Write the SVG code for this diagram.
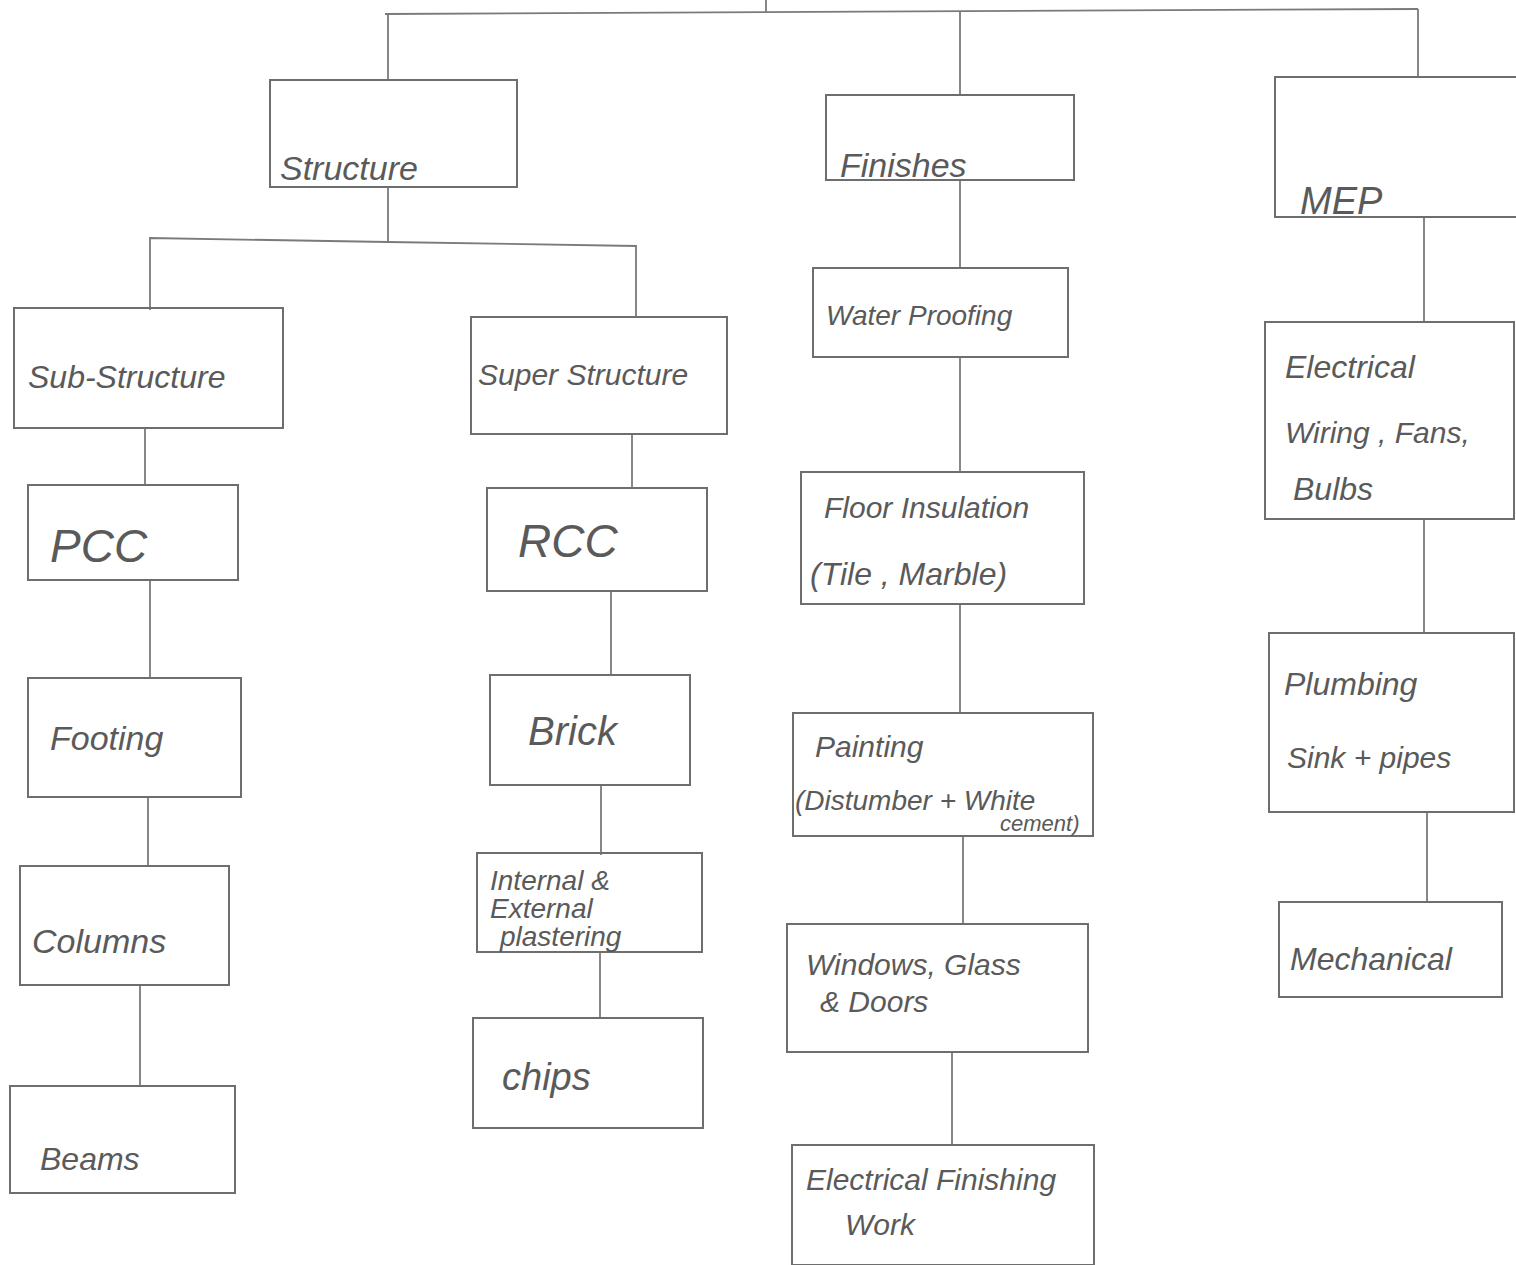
<svg xmlns="http://www.w3.org/2000/svg" width="1516" height="1265" viewBox="0 0 1516 1265">
<style>
.bg{fill:#ffffff}
.box rect{fill:none;stroke:#6e6e6e;stroke-width:2}
.box text{font-family:"Liberation Sans","DejaVu Sans",sans-serif;fill:#5a5a5a;font-style:italic}
#connectors line,#connectors polyline{fill:none;stroke:#7a7a7a;stroke-width:1.8}
</style>
<rect class="bg" x="0" y="0" width="1516" height="1265"/>
<g id="connectors">
<line x1="766" y1="0" x2="766" y2="13"/>
<polyline points="385,14 1418,9"/>
<line x1="388" y1="14" x2="388" y2="80"/>
<line x1="960" y1="12" x2="960" y2="95"/>
<line x1="1418" y1="9" x2="1418" y2="77"/>
<line x1="388" y1="187" x2="388" y2="242"/>
<polyline points="150,310 150,238 388,242 636,246 636,318"/>
<line x1="145" y1="428" x2="145" y2="485"/>
<line x1="150" y1="580" x2="150" y2="678"/>
<line x1="148" y1="797" x2="148" y2="866"/>
<line x1="140" y1="985" x2="140" y2="1086"/>
<line x1="632" y1="434" x2="632" y2="488"/>
<line x1="611" y1="591" x2="611" y2="675"/>
<line x1="601" y1="785" x2="601" y2="855"/>
<line x1="600" y1="952" x2="600" y2="1018"/>
<line x1="960" y1="180" x2="960" y2="268"/>
<line x1="960" y1="357" x2="960" y2="472"/>
<line x1="960" y1="604" x2="960" y2="713"/>
<line x1="963" y1="836" x2="963" y2="924"/>
<line x1="952" y1="1052" x2="952" y2="1145"/>
<line x1="1424" y1="217" x2="1424" y2="322"/>
<line x1="1424" y1="519" x2="1424" y2="633"/>
<line x1="1427" y1="812" x2="1427" y2="902"/>
</g>
<g id="structure" class="box"><rect x="270" y="80" width="247" height="107"/><text x="280" y="180" font-size="34">Structure</text></g>
<g id="finishes" class="box"><rect x="826" y="95" width="248" height="85"/><text x="840" y="177" font-size="34">Finishes</text></g>
<g id="mep" class="box"><rect x="1275" y="77" width="243" height="140"/><text x="1300" y="214" font-size="38">MEP</text></g>
<g id="sub-structure" class="box"><rect x="14" y="308" width="269" height="120"/><text x="28" y="388" font-size="32">Sub-Structure</text></g>
<g id="super-structure" class="box"><rect x="471" y="317" width="256" height="117"/><text x="478" y="385" font-size="30">Super Structure</text></g>
<g id="pcc" class="box"><rect x="28" y="485" width="210" height="95"/><text x="50" y="562" font-size="46">PCC</text></g>
<g id="footing" class="box"><rect x="28" y="678" width="213" height="119"/><text x="50" y="750" font-size="34">Footing</text></g>
<g id="columns" class="box"><rect x="20" y="866" width="209" height="119"/><text x="32" y="953" font-size="34">Columns</text></g>
<g id="beams" class="box"><rect x="10" y="1086" width="225" height="107"/><text x="40" y="1170" font-size="32">Beams</text></g>
<g id="rcc" class="box"><rect x="487" y="488" width="220" height="103"/><text x="518" y="557" font-size="46">RCC</text></g>
<g id="brick" class="box"><rect x="490" y="675" width="200" height="110"/><text x="528" y="745" font-size="40">Brick</text></g>
<g id="plastering" class="box"><rect x="477" y="853" width="225" height="99"/><text x="490" y="890" font-size="28">Internal &amp;</text><text x="490" y="918" font-size="28">External</text><text x="500" y="946" font-size="28">plastering</text></g>
<g id="chips" class="box"><rect x="473" y="1018" width="230" height="110"/><text x="502" y="1090" font-size="38">chips</text></g>
<g id="water-proofing" class="box"><rect x="813" y="268" width="255" height="89"/><text x="826" y="325" font-size="28">Water Proofing</text></g>
<g id="floor-insulation" class="box"><rect x="801" y="472" width="283" height="132"/><text x="824" y="518" font-size="30">Floor Insulation</text><text x="810" y="585" font-size="32">(Tile , Marble)</text></g>
<g id="painting" class="box"><rect x="793" y="713" width="300" height="123"/><text x="815" y="757" font-size="30">Painting</text><text x="795" y="810" font-size="28">(Distumber + White</text><text x="1000" y="831" font-size="22">cement)</text></g>
<g id="windows" class="box"><rect x="787" y="924" width="301" height="128"/><text x="806" y="975" font-size="30">Windows, Glass</text><text x="820" y="1012" font-size="30">&amp; Doors</text></g>
<g id="electrical-finishing" class="box"><rect x="792" y="1145" width="302" height="120"/><text x="806" y="1190" font-size="30">Electrical Finishing</text><text x="845" y="1235" font-size="30">Work</text></g>
<g id="electrical-wiring" class="box"><rect x="1265" y="322" width="249" height="197"/><text x="1285" y="378" font-size="32">Electrical</text><text x="1285" y="443" font-size="30">Wiring , Fans,</text><text x="1293" y="500" font-size="32">Bulbs</text></g>
<g id="plumbing" class="box"><rect x="1269" y="633" width="245" height="179"/><text x="1284" y="695" font-size="32">Plumbing</text><text x="1287" y="768" font-size="30">Sink + pipes</text></g>
<g id="mechanical" class="box"><rect x="1279" y="902" width="223" height="95"/><text x="1290" y="970" font-size="32">Mechanical</text></g>
</svg>
